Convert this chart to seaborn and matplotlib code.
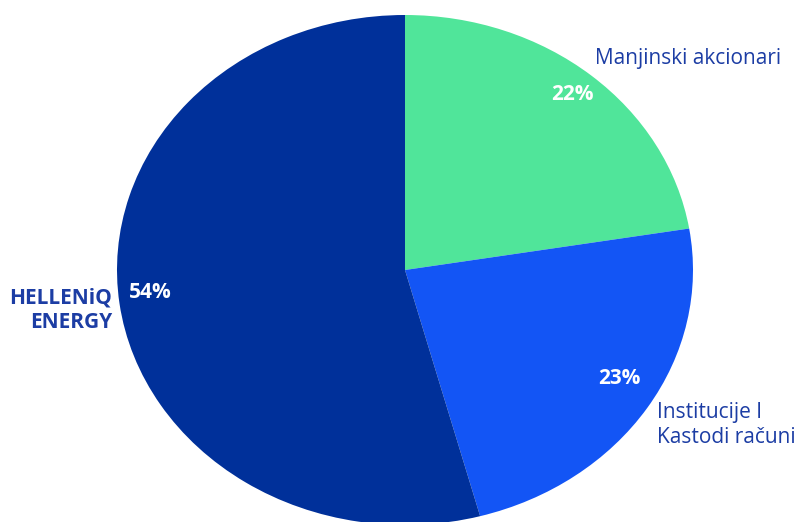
import matplotlib
matplotlib.use("Agg")
import seaborn as sns
import matplotlib.pyplot as plt


# ============================
# Data
# ============================

categories = ["Manjinski akcionari", "Institucije I\nKastodi računi", "HELLENiQ\nENERGY"]
shares = [22.4, 23.4, 54.2]
colors = ["#50E59A", "#1355F5", "#00309A"]
label_color = "#1C3DA4"


# ============================
# Pie
# ============================

sns.set_theme(style="white")
plt.rcParams["font.family"] = ["Open Sans", "DejaVu Sans"]

fig = plt.figure(figsize=(8.01, 5.22), dpi=100)
ax = fig.add_axes([0, 0, 1, 1])

wedges, texts, autotexts = ax.pie(
    shares,
    labels=categories,
    colors=colors,
    startangle=90,
    counterclock=False,
    autopct=lambda p: f"{p:.0f}%",
    pctdistance=0.88,
    labeldistance=1.06,
    wedgeprops={"linewidth": 0},
    textprops={"fontsize": 15, "color": label_color},
)

for t in autotexts:
    t.set_color("white")
    t.set_fontweight("bold")
    t.set_fontsize(15)

# nudge labels to where they sit in the original
autotexts[0].set_position((0.583, 0.690))
autotexts[1].set_position((0.743, -0.425))
autotexts[2].set_position((-0.885, -0.088))

texts[0].set_position((0.66, 0.831))
texts[0].set_horizontalalignment("left")
texts[1].set_position((0.875, -0.608))
texts[1].set_horizontalalignment("left")
texts[1].set_multialignment("left")
texts[2].set_position((-1.017, -0.157))
texts[2].set_horizontalalignment("right")
texts[2].set_multialignment("right")
texts[2].set_fontweight("bold")

# stretch the pie into the ellipse seen in the original
ax.set_aspect("auto")
ax.set_xlim(-405 / 288, (801 - 405) / 288)
ax.set_ylim(-(522 - 270) / 255, 270 / 255)
ax.axis("off")


# ============================
# Save
# ============================

fig.savefig("out.png", dpi=100)
